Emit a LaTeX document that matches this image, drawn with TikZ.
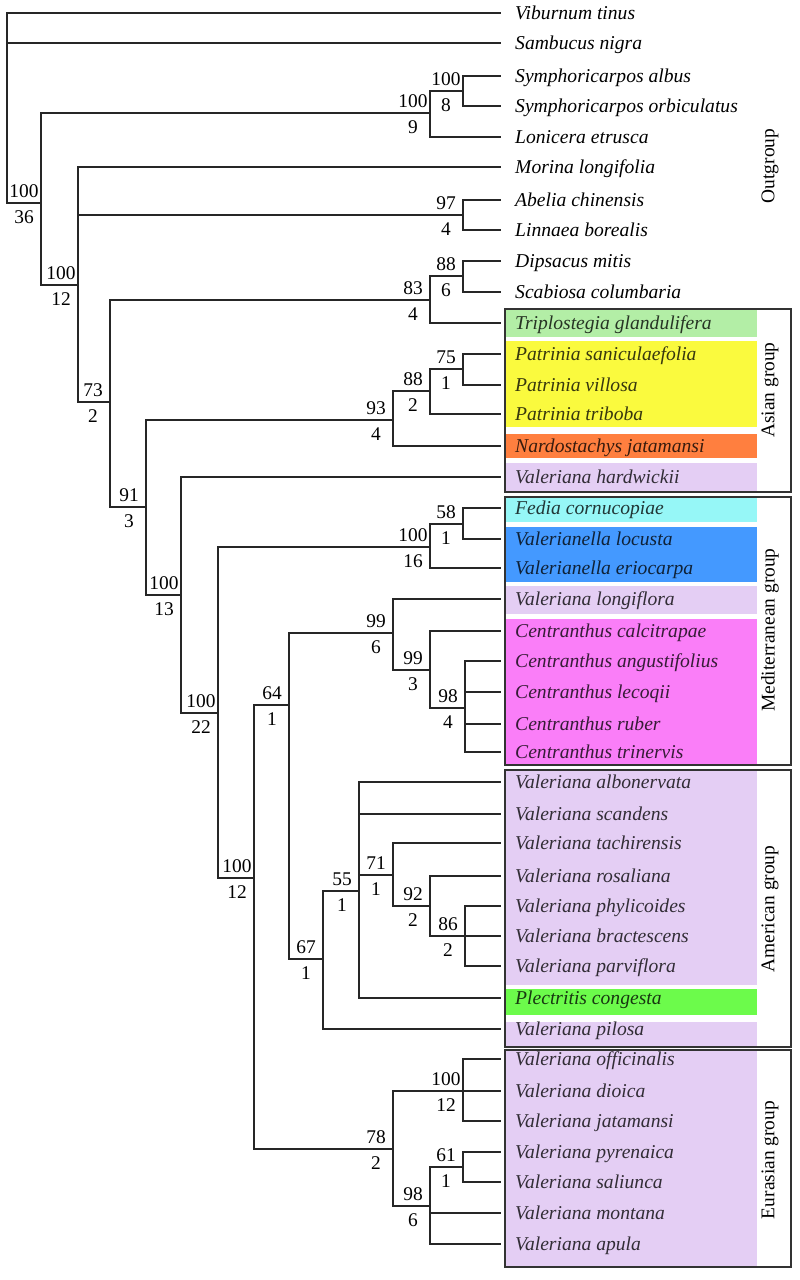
\documentclass[tikz,border=0pt]{standalone}
\usepackage{fontspec}
\setmainfont{Liberation Serif}
\definecolor{cgreenA}{RGB}{179,238,166}
\definecolor{cyellow}{RGB}{250,250,62}
\definecolor{corange}{RGB}{255,127,63}
\definecolor{clav}{RGB}{228,206,244}
\definecolor{ccyan}{RGB}{150,247,247}
\definecolor{cblue}{RGB}{68,153,255}
\definecolor{cmag}{RGB}{250,126,248}
\definecolor{cgreenB}{RGB}{108,251,75}
\definecolor{tnone}{RGB}{0,0,0}
\begin{document}
\begin{tikzpicture}[x=1bp,y=-1bp,
  br/.style={line width=1.2bp, draw=black!85},
  tip/.style={anchor=base west, inner sep=0pt, font=\fontsize{19.6bp}{22bp}\selectfont\itshape},
  bsup/.style={anchor=base, inner sep=0pt, font=\fontsize{19.4bp}{22bp}\selectfont},
  grplabel/.style={rotate=90, anchor=center, inner sep=0pt, font=\fontsize{19.4bp}{22bp}\selectfont},
  grpbox/.style={line width=1.3bp, draw=black!80},
]
\useasboundingbox[fill=white] (0,0) rectangle (800,1280);

% coloured backgrounds
\fill[cgreenA] (505,309) rectangle (757,337);
\fill[cyellow] (505,341) rectangle (757,427);
\fill[corange] (505,434) rectangle (757,458);
\fill[clav] (505,463) rectangle (757,492);
\fill[ccyan] (505,498) rectangle (757,522);
\fill[cblue] (505,527) rectangle (757,582);
\fill[clav] (505,586) rectangle (757,614);
\fill[cmag] (505,619) rectangle (757,765);
\fill[clav] (505,770) rectangle (757,985);
\fill[cgreenB] (505,989) rectangle (757,1015);
\fill[clav] (505,1022) rectangle (757,1047);
\fill[clav] (505,1049) rectangle (757,1267);

% leaves
\foreach \i/\y/\t/\c in {
 1/13/Viburnum tinus/tnone,
 2/43/Sambucus nigra/tnone,
 3/76/Symphoricarpos albus/tnone,
 4/106/Symphoricarpos orbiculatus/tnone,
 5/137/Lonicera etrusca/tnone,
 6/167/Morina longifolia/tnone,
 7/200/Abelia chinensis/tnone,
 8/230/Linnaea borealis/tnone,
 9/261/Dipsacus mitis/tnone,
 10/292/Scabiosa columbaria/tnone,
 11/323/Triplostegia glandulifera/cgreenA,
 12/354/Patrinia saniculaefolia/cyellow,
 13/385/Patrinia villosa/cyellow,
 14/414/Patrinia triboba/cyellow,
 15/446/Nardostachys jatamansi/corange,
 16/477/Valeriana hardwickii/clav,
 17/508/Fedia cornucopiae/ccyan,
 18/539/Valerianella locusta/cblue,
 19/568/Valerianella eriocarpa/cblue,
 20/599/Valeriana longiflora/clav,
 21/631/Centranthus calcitrapae/cmag,
 22/661/Centranthus angustifolius/cmag,
 23/692/Centranthus lecoqii/cmag,
 24/724/Centranthus ruber/cmag,
 25/752/Centranthus trinervis/cmag,
 26/782/Valeriana albonervata/clav,
 27/814/Valeriana scandens/clav,
 28/843/Valeriana tachirensis/clav,
 29/876/Valeriana rosaliana/clav,
 30/906/Valeriana phylicoides/clav,
 31/936/Valeriana bractescens/clav,
 32/966/Valeriana parviflora/clav,
 33/998/Plectritis congesta/cgreenB,
 34/1029/Valeriana pilosa/clav,
 35/1059/Valeriana officinalis/clav,
 36/1091/Valeriana dioica/clav,
 37/1121/Valeriana jatamansi/clav,
 38/1152/Valeriana pyrenaica/clav,
 39/1182/Valeriana saliunca/clav,
 40/1213/Valeriana montana/clav,
 41/1244/Valeriana apula/clav}
{
  \coordinate (l\i) at (501,\y);
  \node[tip, text=\c!22!black] (t\i) at (515,\y+6.5) {\t};
}

% internal nodes with support values
\coordinate (root) at (7,108);
\foreach \n/\x/\y/\u/\d in {
 nA/41/203/100/36, nB/430/113/100/9, nD/463/91/100/8, nC/78/285/100/12,
 nE/463/215/97/4, nF/110/402/73/2, nG/430/300/83/4, nGb/463/276/88/6,
 nH/146/507/91/3, nI/393/420/93/4, nK/430/391/88/2, nL/463/369/75/1,
 nJ/181/595/100/13, nM/218/713/100/22, nN/430/547/100/16, nNb/463/524/58/1,
 nO/254/878/100/12, nP/289/705/64/1, nR/393/633/99/6, nT/430/670/99/3,
 nU/465/708/98/4, nS/323/959/67/1, nV/359/891/55/1, nW/393/875/71/1,
 nX/430/906/92/2, nY/465/936/86/2, nQ/393/1149/78/2, nZ/463/1091/100/12,
 nAA/430/1206/98/6, nBB/463/1167/61/1}
{
  \coordinate (\n) at (\x,\y);
  \node[bsup] (\n u) at (\x-17,\y-6) {\u};
  \node[bsup] (\n d) at (\x-17,\y+20) {\d};
}

% branches
\foreach \p/\c in {
 root/l1, root/l2, root/nA,
 nA/nB, nA/nC,
 nB/nD, nB/l5, nD/l3, nD/l4,
 nC/l6, nC/nE, nC/nF, nE/l7, nE/l8,
 nF/nG, nF/nH, nG/nGb, nG/l11, nGb/l9, nGb/l10,
 nH/nI, nH/nJ, nI/nK, nI/l15, nK/nL, nK/l14, nL/l12, nL/l13,
 nJ/l16, nJ/nM, nM/nN, nM/nO, nN/nNb, nN/l19, nNb/l17, nNb/l18,
 nO/nP, nO/nQ, nP/nR, nP/nS, nR/l20, nR/nT, nT/l21, nT/nU,
 nU/l22, nU/l23, nU/l24, nU/l25,
 nS/nV, nS/l34, nV/l26, nV/l27, nV/nW, nV/l33,
 nW/l28, nW/nX, nX/l29, nX/nY, nY/l30, nY/l31, nY/l32,
 nQ/nZ, nQ/nAA, nZ/l35, nZ/l36, nZ/l37,
 nAA/nBB, nAA/l40, nAA/l41, nBB/l38, nBB/l39}
{
  \draw[br] (\p) |- (\c);
}

% group outlines
\draw[grpbox] (505,309) rectangle (791,492);
\draw[grpbox] (505,497) rectangle (791,765);
\draw[grpbox] (505,770) rectangle (791,1047);
\draw[grpbox] (505,1050) rectangle (791,1267);

% group labels
\node[grplabel] (gOut) at (770,166) {Outgroup};
\node[grplabel] (gAsia) at (770,390) {Asian group};
\node[grplabel] (gMed) at (770,630) {Mediterranean group};
\node[grplabel] (gAm) at (770,909) {American group};
\node[grplabel] (gEur) at (770,1160) {Eurasian group};
\end{tikzpicture}
\end{document}
